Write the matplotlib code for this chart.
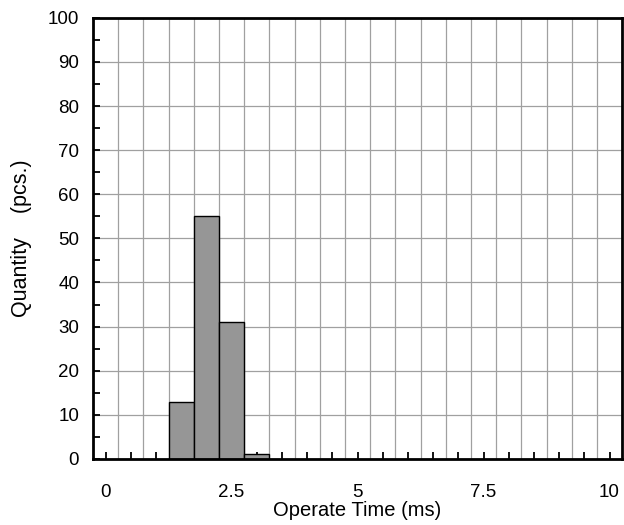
import numpy as np
import matplotlib
matplotlib.use('Agg')
import matplotlib.pyplot as plt
from matplotlib.ticker import MultipleLocator, FixedLocator

plt.rcParams['font.family'] = ['Liberation Sans', 'DejaVu Sans']

# histogram bins (centre, ms) and counts (pcs.)
bin_centers = [1.5, 2.0, 2.5, 3.0]
counts = [13, 55, 31, 1]
bin_width = 0.5

x_labels = {0: '0', 2.5: '2.5', 5: '5', 7.5: '7.5', 10: '10'}

fig = plt.figure(figsize=(6.24, 5.25), dpi=100)
ax = fig.add_axes([0.149, 0.126, 0.848, 0.840])

ax.bar(bin_centers, counts, width=bin_width, color='#969696',
       edgecolor='black', linewidth=1.0, zorder=3)

ax.set_xlim(-0.25, 10.25)
ax.set_ylim(0, 100)

xt = np.arange(0, 10.01, 0.5)
ax.set_xticks(xt)
ax.set_xticklabels([x_labels.get(round(v, 2), '') for v in xt])
ax.xaxis.set_minor_locator(FixedLocator(np.arange(0.25, 10.0, 0.5)))
ax.yaxis.set_major_locator(MultipleLocator(10))
ax.yaxis.set_minor_locator(MultipleLocator(5))

ax.tick_params(axis='x', which='major', direction='in', length=5, width=1.3,
               labelsize=13.5, pad=18, bottom=True, top=False)
ax.tick_params(axis='x', which='minor', length=0)
ax.tick_params(axis='y', which='both', direction='in', length=5, width=1.3,
               labelsize=13.5, pad=10, right=False)

ax.xaxis.grid(True, which='minor', color='#a0a0a0', linewidth=0.9, zorder=0)
ax.yaxis.grid(True, which='major', color='#a0a0a0', linewidth=0.9, zorder=0)
ax.set_axisbelow(True)

for s in ax.spines.values():
    s.set_linewidth(2)
    s.set_zorder(4)

ax.set_xlabel('Operate Time (ms)', fontsize=14.5, labelpad=0)
ax.set_ylabel('Quantity    (pcs.)', fontsize=15.5, labelpad=11)

fig.savefig('out.png', dpi=100)
